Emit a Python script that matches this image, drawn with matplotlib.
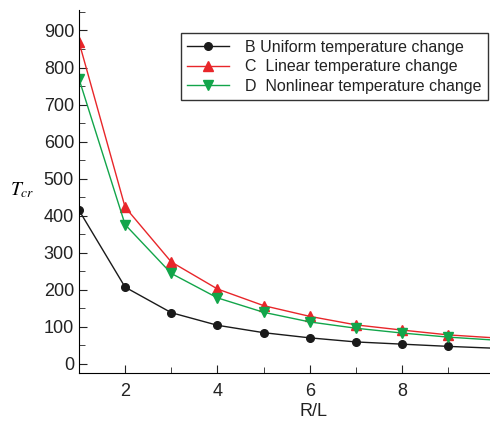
import matplotlib
matplotlib.use("Agg")
import matplotlib.pyplot as plt
from matplotlib.ticker import MultipleLocator

plt.rcParams['font.family'] = ['Liberation Sans', 'DejaVu Sans']

x = [1, 2, 3, 4, 5, 6, 7, 8, 9, 10]
uniform = [415, 207, 138, 104, 84, 70, 59, 53, 47, 42]
linear = [870, 423, 275, 202, 157, 128, 105, 91, 78, 70]
nonlinear = [770, 376, 244, 178, 139, 113, 96, 83, 72, 64]
labels = ["B Uniform temperature change",
          "C  Linear temperature change",
          "D  Nonlinear temperature change"]

fig = plt.figure(figsize=(4.9, 4.22), dpi=100)
ax = fig.add_axes([0.161, 0.116, 0.839, 0.86])

ax.plot(x, uniform, color='#1a1a1a', lw=1, marker='o', ms=5.5, label=labels[0])
ax.plot(x, linear, color='#e8262a', lw=1, marker='^', ms=7, label=labels[1])
ax.plot(x, nonlinear, color='#12a54a', lw=1, marker='v', ms=7, label=labels[2])

ax.set_xlim(1, 9.9)
ax.set_ylim(-25, 955)
ax.xaxis.set_major_locator(MultipleLocator(2))
ax.xaxis.set_minor_locator(MultipleLocator(1))
ax.yaxis.set_major_locator(MultipleLocator(100))
ax.yaxis.set_minor_locator(MultipleLocator(50))
ax.tick_params(which='both', direction='in', labelsize=13, colors='#222222')
ax.tick_params(which='major', length=6)
ax.tick_params(which='minor', length=4)
ax.tick_params(axis='x', pad=7)
ax.set_xticks([2, 4, 6, 8])
ax.set_yticks(range(0, 901, 100))
for s in ['top', 'right']:
    ax.spines[s].set_visible(False)

ax.set_xlabel('R/L', fontsize=13, color='#222222', va='center')
ax.xaxis.set_label_coords(0.57, -0.107)
fig.text(0.045, 0.55, r'$T_{cr}$', fontsize=14,
         ha='center', va='center', math_fontfamily='stix')

leg = ax.legend(loc='upper right', bbox_to_anchor=(0.995, 0.937), fontsize=11.5,
                frameon=True, fancybox=False, edgecolor='black',
                handlelength=2.6, labelspacing=0.28, borderpad=0.42,
                handletextpad=1.0, borderaxespad=0.0)
leg.get_frame().set_linewidth(1.0)
for t in leg.get_texts():
    t.set_color('#222222')

fig.savefig('out.png', dpi=100)
